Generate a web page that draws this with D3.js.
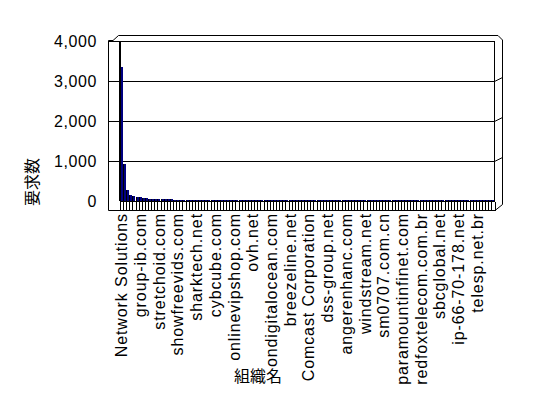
<!DOCTYPE html>
<html>
<head>
<meta charset="utf-8">
<script src="https://cdn.jsdelivr.net/npm/d3@7"></script>
<style>
  body { margin: 0; background: #fff; }
  svg { display: block; }
  text { font-family: "Liberation Sans", Arial, sans-serif; fill: #000; }
  .jp { font-family: "Noto Sans CJK JP", sans-serif; }
</style>
</head>
<body>
<svg id="chart" width="548" height="398"></svg>
<script>
// Organisations whose names appear on the category axis (one every labelStep bars)
const labeledOrgs = [
  "Network Solutions", "group-ib.com", "stretchoid.com", "showfreevids.com",
  "sharktech.net", "cybcube.com", "onlinevipshop.com", "ovh.net",
  "ondigitalocean.com", "breezeline.net", "Comcast Corporation", "dss-group.net",
  "angerenhanc.com", "windstream.net", "sm0707.com.cn", "paramountinfinet.com",
  "redfoxtelecom.com.br", "sbcglobal.net", "ip-66-70-178.net", "telesp.net.br"
];
const labelStep = 6;

// Request count per organisation, sorted descending
const requestCounts = [
  3330, 905, 255, 140, 118, 92, 76, 63, 52, 47,
  41, 38, 36, 34, 33, 31, 29, 22, 19, 17,
  16, 15, 14, 14, 13, 13, 12, 12, 11, 11,
  10, 10, 10, 9, 9, 9, 9, 8, 8, 8,
  8, 7, 7, 7, 7, 7, 6, 6, 6, 6,
  6, 6, 5, 5, 5, 5, 5, 5, 5, 4,
  4, 4, 4, 4, 4, 4, 4, 4, 3, 3,
  3, 3, 3, 3, 3, 3, 3, 3, 3, 3,
  2, 2, 2, 2, 2, 2, 2, 2, 2, 2,
  2, 2, 2, 2, 2, 2, 2, 2, 2, 2,
  2, 1, 1, 1, 1, 1, 1, 1, 1, 1,
  1, 1, 1, 1, 1, 1, 1, 1, 1, 1
];

const yTicks = [0, 1000, 2000, 3000, 4000];
const yTitle = "要求数";
const xTitle = "組織名";

const svg = d3.select("#chart");

// Back wall of the 3-D plot box, with side wall / floor depth around it
const wall = { left: 120, right: 494.5, top: 40.5, floor: 200.5 };
const depth = { side: 108.5, front: 210.5, rim: 502.5, lip: 35.5 };

const x = d3.scaleBand()
  .domain(d3.range(requestCounts.length))
  .range([wall.left, wall.right])
  .padding(0);

const y = d3.scaleLinear()
  .domain([0, 4000])
  .range([wall.floor, wall.top]);

const frame = svg.append("g")
  .attr("fill", "none")
  .attr("stroke", "#000")
  .attr("stroke-width", 1)
  .attr("shape-rendering", "crispEdges");

// Gridlines across side wall and back wall, bending onto the right rim
yTicks.filter(t => t > 0).forEach(t => {
  const yy = Math.round(y(t)) + 0.5;
  frame.append("line")
    .attr("x1", depth.side).attr("x2", wall.right)
    .attr("y1", yy).attr("y2", yy);
  if (t < 4000) {
    frame.append("path")
      .attr("shape-rendering", "auto")
      .attr("d", `M${wall.right},${yy} L${depth.rim},${yy - 4}`);
  }
});

// Floor back edge
frame.append("line")
  .attr("x1", wall.left).attr("x2", wall.right)
  .attr("y1", Math.round(y(0)) + 0.5).attr("y2", Math.round(y(0)) + 0.5);

// Floor ticks between categories
const edges = d3.range(requestCounts.length + 1).map(i =>
  i < requestCounts.length ? x(i) : wall.right);
frame.selectAll("line.tick")
  .data(edges)
  .join("line")
  .attr("class", "tick")
  .attr("x1", d => Math.round(d) + 0.5).attr("x2", d => Math.round(d) + 0.5)
  .attr("y1", Math.round(y(0)) + 0.5).attr("y2", depth.front);

// Outer box outline
frame.append("path")
  .attr("shape-rendering", "auto")
  .attr("d",
    `M${depth.side},${depth.front} V${wall.top} H113 L118.5,${depth.lip} H498 ` +
    `L${depth.rim},40 V204.5 L495,${depth.front} Z`);

// Back wall right edge
frame.append("line")
  .attr("x1", wall.right).attr("x2", wall.right)
  .attr("y1", wall.top).attr("y2", Math.round(y(0)) + 0.5);

// Bars
const bars = svg.append("g").attr("shape-rendering", "crispEdges");
bars.selectAll("rect")
  .data(requestCounts)
  .join("rect")
  .attr("x", (d, i) => Math.round(x(i)))
  .attr("width", Math.max(1, Math.round(x.bandwidth())))
  .attr("y", d => y(d))
  .attr("height", d => y(0) - y(d))
  .attr("fill", "#000080");
bars.selectAll("line")
  .data(requestCounts)
  .join("line")
  .attr("x1", (d, i) => Math.round(x(i)) + 0.5)
  .attr("x2", (d, i) => Math.round(x(i)) + 0.5)
  .attr("y1", d => y(d))
  .attr("y2", y(0))
  .attr("stroke", "#000");

// Back wall left edge (inner corner with side wall)
svg.append("line")
  .attr("x1", wall.left).attr("x2", wall.left)
  .attr("y1", wall.top).attr("y2", wall.floor)
  .attr("stroke", "#000").attr("stroke-width", 2)
  .attr("shape-rendering", "crispEdges");

// Value axis labels
const yAxis = d3.axisLeft(y)
  .tickValues(yTicks)
  .tickFormat(d3.format(","))
  .tickSize(0)
  .tickPadding(0);
const yg = svg.append("g")
  .attr("transform", `translate(97,0)`)
  .call(yAxis);
yg.select(".domain").remove();
yg.selectAll("text")
  .attr("font-size", 16)
  .attr("font-family", "Liberation Sans, Arial, sans-serif")
  .attr("letter-spacing", "0.6px")
  .attr("dy", "0.35em");

// Category axis labels, every labelStep-th organisation
const xAxis = d3.axisBottom(x)
  .tickValues(d3.range(0, requestCounts.length, labelStep))
  .tickFormat(i => labeledOrgs[i / labelStep])
  .tickSize(0)
  .tickPadding(0);
const xg = svg.append("g")
  .attr("transform", `translate(0,213)`)
  .call(xAxis);
xg.select(".domain").remove();
xg.selectAll("text")
  .attr("font-size", 16)
  .attr("font-family", "Liberation Sans, Arial, sans-serif")
  .attr("letter-spacing", "0.9px")
  .attr("transform", "rotate(-90)")
  .attr("text-anchor", "end")
  .attr("x", 0)
  .attr("y", 0)
  .attr("dy", "0.35em");

// Axis titles
svg.append("text")
  .attr("class", "jp")
  .attr("transform", "translate(32,182) rotate(-90)")
  .attr("text-anchor", "middle")
  .attr("dy", "0.35em")
  .attr("font-size", 16)
  .text(yTitle);

svg.append("text")
  .attr("class", "jp")
  .attr("x", 258)
  .attr("y", 376)
  .attr("text-anchor", "middle")
  .attr("dy", "0.35em")
  .attr("font-size", 16)
  .text(xTitle);
</script>
</body>
</html>
